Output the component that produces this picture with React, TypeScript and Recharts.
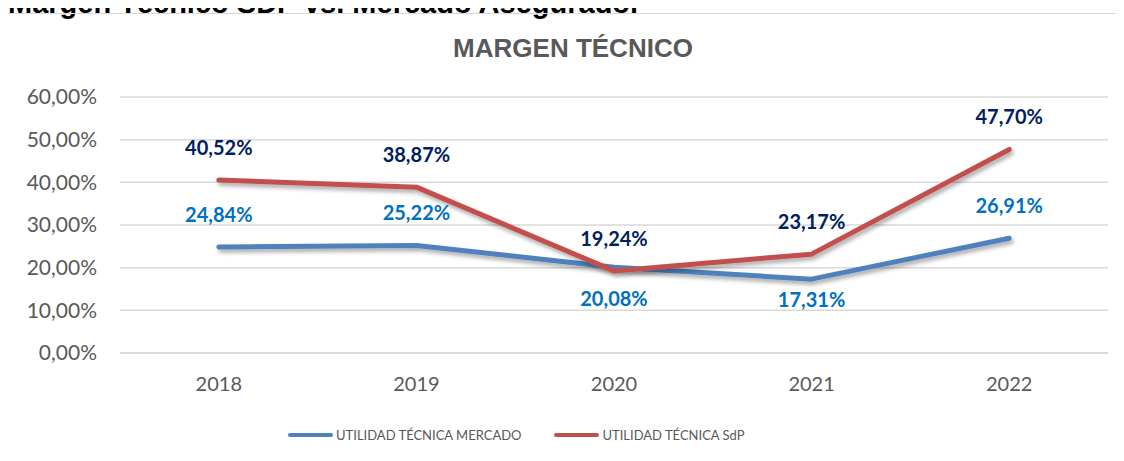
import React from 'react';
import { LineChart, Line, XAxis, YAxis, CartesianGrid, LabelList, Legend } from 'recharts';

// Data
const years = ['2018', '2019', '2020', '2021', '2022'];
const mercado = [24.84, 25.22, 20.08, 17.31, 26.91];
const sdp = [40.52, 38.87, 19.24, 23.17, 47.7];
const yTicks = [0, 10, 20, 30, 40, 50, 60];
const seriesNames = ['UTILIDAD TÉCNICA MERCADO', 'UTILIDAD TÉCNICA SdP'];

const chartData = years.map((year, i) => ({ year, mercado: mercado[i], sdp: sdp[i] }));

const BLUE = '#4F81BD';
const RED = '#C0504D';
const GRID = '#D9D9D9';
const TEXT = '#595959';
const FONT = 'Lato, "Open Sans", sans-serif';

const fmt = (v: number) => v.toFixed(2).replace('.', ',') + '%';

// label placement tweaks (pixels), mercado labels at 2020/2021 sit under the line
const mercadoBelow: Record<number, number> = { 2: 31, 3: 20 };

function makeLabel(color: string, below: Record<number, number>) {
  return (props: any) => {
    const { x, y, value, index } = props;
    const dy = below[index] !== undefined ? below[index] : -33;
    return (
      <text
        x={x}
        y={y + dy}
        textAnchor="middle"
        dominantBaseline="central"
        fill={color}
        fontFamily={FONT}
        fontWeight={700}
        fontSize={20}
      >
        {fmt(value)}
      </text>
    );
  };
}

function LegendContent() {
  const colors = [BLUE, RED];
  return (
    <div style={{ display: 'flex', alignItems: 'center', fontFamily: FONT, fontSize: 13, color: TEXT }}>
      {seriesNames.map((name, i) => (
        <div key={name} style={{ display: 'flex', alignItems: 'center', marginRight: i === 0 ? 33 : 0 }}>
          <span style={{ display: 'inline-block', width: 45, height: 4, borderRadius: 2, background: colors[i], marginRight: 3 }} />
          <span>{name}</span>
        </div>
      ))}
    </div>
  );
}

export default function App() {
  return (
    <div style={{ position: 'relative', width: 1124, height: 461, margin: '-8px 0 0 -8px', overflow: 'hidden', background: '#fff' }}>
      <div
        style={{
          position: 'absolute', left: 8, top: -13, fontFamily: '"Liberation Sans", Arial, sans-serif',
          fontWeight: 700, fontSize: 29, lineHeight: '32px', color: '#000', whiteSpace: 'nowrap'
        }}
      >
        Margen Técnico SDP vs. Mercado Asegurador
      </div>
      <div style={{ position: 'absolute', left: 7, top: 13, width: 1200, height: 500, borderTop: `1.5px solid ${GRID}`, borderLeft: `1.5px solid ${GRID}` }} />
      <div
        style={{
          position: 'absolute', left: 11, top: 33, width: 1124, textAlign: 'center',
          fontFamily: '"Liberation Sans", Arial, sans-serif', fontWeight: 700, fontSize: 26, color: TEXT, lineHeight: '30px'
        }}
      >
        MARGEN TÉCNICO
      </div>
      <div style={{ position: 'absolute', left: 0, top: 0 }}>
        <LineChart width={1124} height={461} data={chartData} margin={{ top: 97, right: 16, bottom: 78, left: 0 }}>
          <defs>
            <filter id="shadow" x="-10%" y="-10%" width="120%" height="140%">
              <feDropShadow dx="2" dy="3" stdDeviation="2" floodColor="#000" floodOpacity="0.35" />
            </filter>
          </defs>
          <CartesianGrid vertical={false} stroke={GRID} strokeWidth={1.5} />
          <XAxis
            dataKey="year"
            height={30}
            axisLine={{ stroke: GRID, strokeWidth: 1.5 }}
            tickLine={false}
            tickMargin={18}
            padding={{ left: 98.8, right: 98.8 }}
            tick={{ fill: TEXT, fontFamily: FONT, fontSize: 20 }}
          />
          <YAxis
            width={120}
            domain={[0, 60]}
            ticks={yTicks}
            axisLine={false}
            tickLine={false}
            tickMargin={17}
            tickFormatter={fmt}
            tick={{ fill: TEXT, fontFamily: FONT, fontSize: 21 }}
          />
          <Legend
            verticalAlign="middle"
            align="center"
            wrapperStyle={{ top: 427, left: 288, width: 'auto' }}
            content={<LegendContent />}
          />
          <Line
            dataKey="mercado"
            name={seriesNames[0]}
            stroke={BLUE}
            strokeWidth={5}
            strokeLinecap="round"
            strokeLinejoin="round"
            dot={false}
            filter="url(#shadow)"
            isAnimationActive={false}
          >
            <LabelList dataKey="mercado" content={makeLabel('#0070C0', mercadoBelow)} />
          </Line>
          <Line
            dataKey="sdp"
            name={seriesNames[1]}
            stroke={RED}
            strokeWidth={5}
            strokeLinecap="round"
            strokeLinejoin="round"
            dot={false}
            filter="url(#shadow)"
            isAnimationActive={false}
          >
            <LabelList dataKey="sdp" content={makeLabel('#002060', {})} />
          </Line>
        </LineChart>
      </div>
    </div>
  );
}
